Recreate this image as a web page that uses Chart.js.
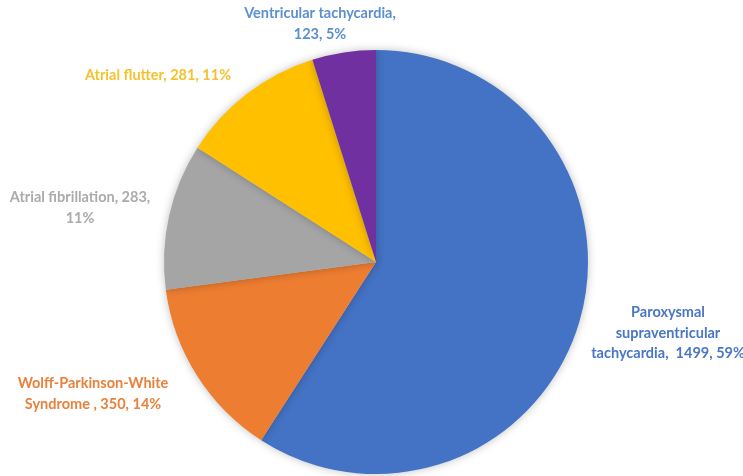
<!DOCTYPE html>
<html>
<head>
<meta charset="utf-8">
<script src="https://cdn.jsdelivr.net/npm/chart.js@4.4.0/dist/chart.umd.min.js"></script>
<style>
  html, body { margin: 0; padding: 0; background: #fff; }
  #wrap { width: 743px; height: 476px; position: relative; }
</style>
</head>
<body>
<div id="wrap"><canvas id="pieChart"></canvas></div>
<script>
const categories = [
  "Paroxysmal supraventricular tachycardia",
  "Wolff-Parkinson-White Syndrome",
  "Atrial fibrillation",
  "Atrial flutter",
  "Ventricular tachycardia",
];
const values = [1499, 350, 283, 281, 123];
// how each category name is broken over lines in the data label
const labelNameLines = [
  ["Paroxysmal", "supraventricular", "tachycardia,  "],
  ["Wolff-Parkinson-White", "Syndrome , "],
  ["Atrial fibrillation, "],
  ["Atrial flutter, "],
  ["Ventricular tachycardia,", ""],
];

const SLICE_COLOURS = ["#4472C4", "#ED7D31", "#A5A5A5", "#FFC000", "#7030A0"];
const LABEL_COLOURS = ["#4A76C6", "#E9813C", "#ABABAB", "#F5C12E", "#5B8FD0"];
// label block centre, relative to pie centre
const LABEL_OFFSETS = [
  [292, 71],
  [-283, 132],
  [-296, -54],
  [-218, -187],
  [-56, -238],
];
const LABEL_FONT = "bold 14.5px Lato, 'Open Sans', sans-serif";
const LINE_HEIGHT = 20.5;

const total = values.reduce((a, b) => a + b, 0);

function labelLines(index) {
  const pct = Math.round((values[index] / total) * 100) + "%";
  const lines = labelNameLines[index].slice();
  const last = lines.length - 1;
  if (index === 2) {
    // fibrillation wraps after the value
    lines[last] = lines[last] + values[index] + ",";
    lines.push(pct);
  } else {
    lines[last] = lines[last] + values[index] + ", " + pct;
  }
  return lines;
}

const dataLabels = {
  id: "dataLabels",
  afterDatasetsDraw(chart) {
    const ctx = chart.ctx;
    const arcs = chart.getDatasetMeta(0).data;
    ctx.save();
    ctx.font = LABEL_FONT;
    ctx.textAlign = "center";
    ctx.textBaseline = "middle";
    arcs.forEach((arc, i) => {
      const lines = labelLines(i);
      const cx = arc.x + LABEL_OFFSETS[i][0];
      const cy = arc.y + LABEL_OFFSETS[i][1];
      const top = cy - ((lines.length - 1) * LINE_HEIGHT) / 2;
      ctx.fillStyle = LABEL_COLOURS[i];
      lines.forEach((line, j) => {
        ctx.fillText(line, cx, top + j * LINE_HEIGHT);
      });
    });
    ctx.restore();
  },
};

const pieShadow = {
  id: "pieShadow",
  beforeDatasetsDraw(chart) {
    const ctx = chart.ctx;
    ctx.save();
    ctx.shadowColor = "rgba(0,0,0,0.25)";
    ctx.shadowBlur = 8;
  },
  afterDatasetsDraw(chart) {
    chart.ctx.restore();
  },
};

new Chart(document.getElementById("pieChart"), {
  type: "pie",
  data: {
    labels: categories,
    datasets: [
      {
        data: values,
        backgroundColor: SLICE_COLOURS,
        borderWidth: 0,
      },
    ],
  },
  options: {
    responsive: true,
    maintainAspectRatio: false,
    animation: false,
    events: [],
    layout: {
      padding: { top: 50, bottom: 2, left: 164, right: 155 },
    },
    plugins: {
      legend: { display: false },
      tooltip: { enabled: false },
      title: { display: false },
    },
  },
  plugins: [pieShadow, dataLabels],
});
</script>
</body>
</html>
